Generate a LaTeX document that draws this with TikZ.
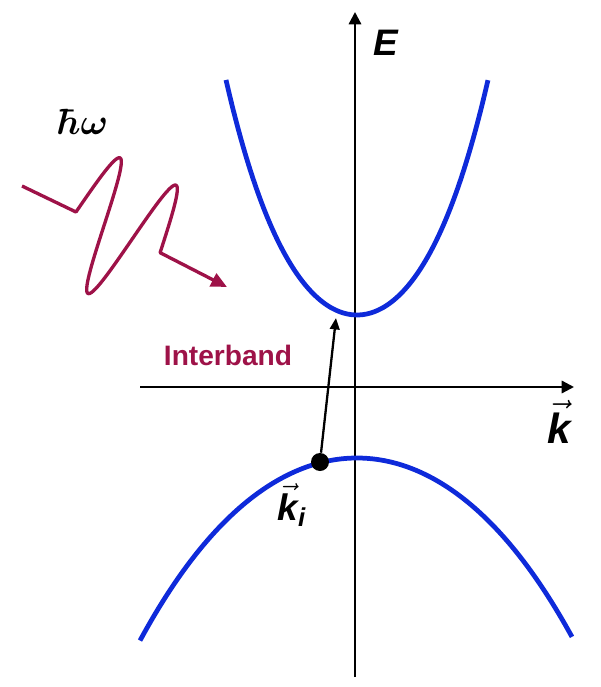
\documentclass[tikz,border=0pt]{standalone}
\usepackage{amsmath}
\usepackage{fontspec}
\setsansfont{Liberation Sans}
\usepackage{xcolor}
\usetikzlibrary{arrows.meta}

\definecolor{bandblue}{RGB}{14,42,218}
\definecolor{photon}{RGB}{158,18,72}

\begin{document}
\begin{tikzpicture}[
		x=0.02cm, y=-0.02cm,
		>=Stealth,
		axis/.style={-{Triangle[length=7pt,width=7pt]}, line width=1.3pt, black},
		band/.style={line width=2.7pt, bandblue},
		wave/.style={-{Triangle[length=9pt,width=8pt]}, line width=1.9pt, photon, line join=round},
		trans/.style={-{Triangle[length=6.5pt,width=5.5pt]}, line width=1.3pt, black},
		dot/.style={circle, fill=black, minimum size=0.36cm, inner sep=0pt},
		lbl/.style={font=\fontsize{21}{25}\selectfont\sffamily\bfseries\itshape}
		]
		\useasboundingbox (0,0) rectangle (601,687);
		
		% axes
		\coordinate (kmin) at (140,387);
		\coordinate (kmax) at (574,387);
		\coordinate (emin) at (355,677);
		\coordinate (emax) at (355,12);
		\draw[axis] (kmin) -- (kmax);
		\draw[axis] (emin) -- (emax);
		\node[lbl] (elbl) at (386,43) {E};
		\node[lbl, font=\fontsize{24}{28}\selectfont\sffamily\bfseries\itshape] (klbl) at (559,422) {$\vec{\text{k}}$};
		
		% bands (k in units of 100px)
		\draw[band] plot[domain=-1.31:1.31, samples=70, smooth] ({357+100*\x}, {315-107.8*\x*\x-17*\x*\x*\x*\x});
		\draw[band] plot[domain=-2.17:2.15, samples=70, smooth] ({357+100*\x}, {458+35*\x*\x+0.8*\x*\x*\x*\x});
		
		% transition
		\node[dot] (ki) at (320,462) {};
		\coordinate (kf) at (336,318);
		\draw[trans] (ki) -- (kf);
		\node[lbl] (kilbl) at (292,505) {$\vec{\text{k}}_{\text{i}}$};
		\node[font=\fontsize{16}{19}\selectfont\sffamily\bfseries, photon] (inter) at (228,355) {Interband};
		
		% photon
		\node[font=\fontsize{22}{26}\selectfont\boldmath] (hw) at (83,122) {$\hbar\omega$};
		\coordinate (wstart) at (22,186);
		\coordinate (wend) at (227,287);
		\draw[wave] (wstart) -- (76,212) -- plot[domain=0:1.5, samples=90, smooth]
		({76+56*\x+30*sin(360*\x)}, {212+27.33*\x-61*sin(360*\x)}) -- (wend);
\end{tikzpicture}
\end{document}
